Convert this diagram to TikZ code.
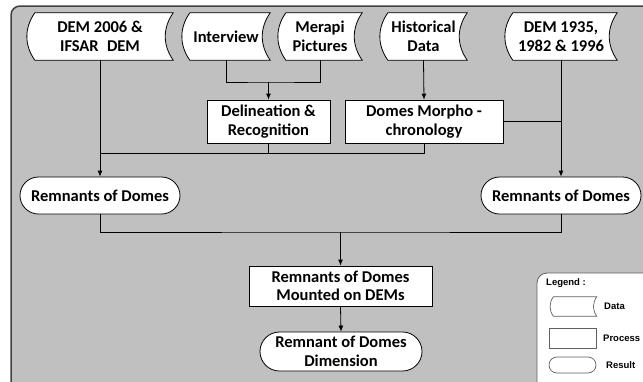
\documentclass[tikz,border=0pt]{standalone}
\usepackage{fontspec}
\setmainfont{Carlito}
\newfontfamily\legendfont{Liberation Sans}
\usetikzlibrary{arrows.meta,backgrounds}

\definecolor{panelgray}{HTML}{C0C0C0}
\definecolor{paneledge}{HTML}{404040}
\definecolor{legendedge}{HTML}{606060}

\tikzset{
  box/.style={font=\bfseries\fontsize{16.5}{18.5}\selectfont, align=center, inner sep=0pt},
  datanode/.style={box, minimum height=47},
  procnode/.style={box, draw, fill=white, line width=0.8pt},
  resnode/.style={box, draw, fill=white, line width=0.8pt},
  datashape/.style={draw, fill=white, line width=0.8pt},
  link/.style={line width=0.8pt},
  arr/.style={link, -{Latex[length=6pt,width=5pt]}},
  legendtext/.style={font=\legendfont\bfseries\fontsize{9.5}{11}\selectfont, inner sep=0pt, anchor=west},
  legendshape/.style={draw=legendedge, line width=0.7pt, fill=white},
}

\begin{document}
\begin{tikzpicture}[x=1pt,y=-1pt]
\useasboundingbox (0,0) rectangle (643,381);

% panel and legend frame
\begin{scope}[on background layer]
  \draw[fill=panelgray, draw=paneledge, line width=1.5pt, rounded corners=9] (11,6) rectangle (670,400);
  \draw[fill=white, draw=legendedge, line width=0.8pt, rounded corners=10] (537,273) rectangle (670,400);
\end{scope}

% input data
\node[datanode, minimum width=146] (dem06) at (100,36.5) {DEM 2006 \&\\IFSAR\enspace DEM};
\node[datanode, minimum width=88]  (intv)  at (226,36.5) {Interview};
\node[datanode, minimum width=84]  (merapi) at (320,36.5) {Merapi\\Pictures};
\node[datanode, minimum width=87]  (hist)  at (423.5,36.5) {Historical\\Data};
\node[datanode, minimum width=112] (dem35) at (561,36.5) {DEM 1935,\\1982 \& 1996};

% processes
\node[procnode, minimum width=123, minimum height=43] (delin) at (268.5,121.5) {Delineation \&\\Recognition};
\node[procnode, minimum width=158, minimum height=43] (morph) at (424,121.5) {Domes Morpho -\\chronology};
\node[procnode, minimum width=183, minimum height=40] (mount) at (340.5,286) {Remnants of Domes\\Mounted on DEMs};

% results
\node[resnode, rounded corners=18.5, minimum width=160, minimum height=37] (remL) at (100,195.5) {Remnants of Domes};
\node[resnode, rounded corners=18.5, minimum width=160, minimum height=37] (remR) at (561,195.5) {Remnants of Domes};
\node[resnode, rounded corners=19.5, minimum width=162, minimum height=39] (dim) at (341,351.5) {Remnant of Domes\\Dimension};

% stored-data outlines behind the data labels
\begin{scope}[on background layer]
  \foreach \n in {dem06,intv,merapi,hist,dem35}
    \draw[datashape] ([xshift=8]\n.north west) to[bend right=35] ([xshift=8]\n.south west)
      -- (\n.south east) to[bend left=35] (\n.north east) -- cycle;
\end{scope}

% connectors
\coordinate (j1) at (delin.north |- 0,82);
\draw[link] (intv.south) |- (j1) -| (merapi.south);
\draw[arr] (j1) -- (delin.north);
\draw[arr] (hist.south) -- (morph.north);

\draw[arr] (dem06.south) -- (remL.north);
\coordinate (j2) at (remL.north |- 0,153);
\draw[link] (morph.south) |- (j2);
\draw[link] (delin.south) -- (delin.south |- j2);

\draw[arr] (dem35.south) -- (remR.north);
\draw[link] (morph.east) -- (dem35.south |- morph.east);

\coordinate (j3) at (mount.north |- 0,232);
\draw[link] (remL.south) |- (j3) -| (remR.south);
\draw[arr] (j3) -- (mount.north);
\draw[arr] (mount.south) -- (dim.north);

% legend
\node[legendtext] (legtitle) at (546,283) {Legend :};
\node[minimum width=47, minimum height=19, inner sep=0pt] (legdata) at (573,306.5) {};
\draw[legendshape] ([xshift=4]legdata.north west) to[bend right=35] ([xshift=4]legdata.south west)
  -- (legdata.south east) to[bend left=35] (legdata.north east) -- cycle;
\node[legendshape, minimum width=47, minimum height=20, inner sep=0pt] (legproc) at (572.5,338) {};
\node[legendshape, rounded corners=8, minimum width=47, minimum height=16, inner sep=0pt] (legres) at (572.5,365) {};
\node[legendtext] (legdatat) at (604,306) {Data};
\node[legendtext] (legproct) at (603,338) {Process};
\node[legendtext] (legrest) at (606,365) {Result};
\end{tikzpicture}
\end{document}
